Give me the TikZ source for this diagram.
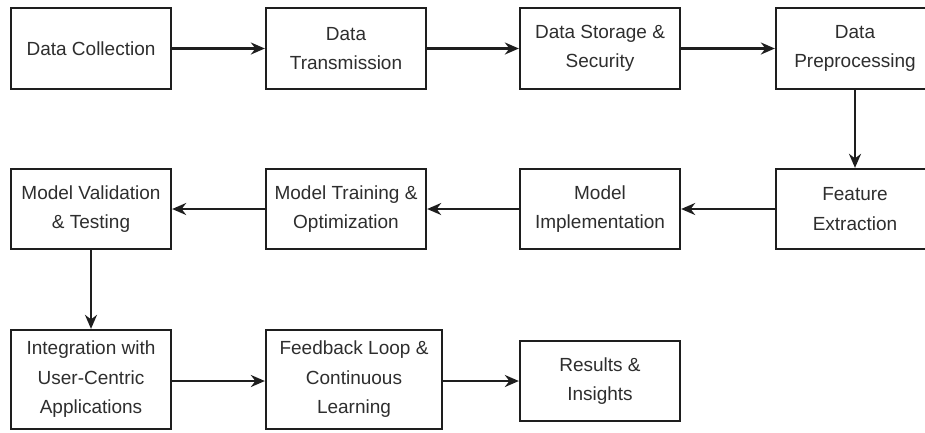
\documentclass[tikz,border=0pt]{standalone}
\usepackage{fontspec}
\setmainfont{Liberation Sans}
\usetikzlibrary{arrows.meta}
\definecolor{edge}{HTML}{1E1E1E}
\definecolor{label}{HTML}{2E2E2E}
\begin{document}
\begin{tikzpicture}[x=1pt,y=-1pt,
  box/.style={draw=edge, line width=2.3pt, fill=white, rectangle,
    minimum width=160pt, minimum height=81pt, inner sep=0pt,
    align=center, text=label, font=\fontsize{19}{29.5}\selectfont},
  flow/.style={draw=edge, line width=2.3pt,
    -{Stealth[length=14pt,width=12pt]}}]
\useasboundingbox (0,0) rectangle (925,432);
\fill[white] (0,0) rectangle (925,432);

% first row
\node[box] (col)  at (91,48.5)  {Data Collection};
\node[box] (tx)   at (346,48.5) {Data\\Transmission};
\node[box] (sto)  at (600,48.5) {Data Storage \&\\Security};
\node[box, minimum width=158pt] (pre) at (855,48.5) {Data\\Preprocessing};

% second row
\node[box, minimum height=80pt] (val)  at (91,209)  {Model Validation\\\& Testing};
\node[box, minimum height=80pt] (tr)   at (346,209) {Model Training \&\\Optimization};
\node[box, minimum height=80pt] (impl) at (600,209) {Model\\Implementation};
\node[box, minimum height=80pt, minimum width=158pt] (feat) at (855,209) {Feature\\Extraction};

% third row
\node[box, minimum height=99pt] (int) at (91,379.5) {Integration with\\User-Centric\\Applications};
\node[box, minimum height=99pt, minimum width=176pt] (fb) at (354,379.5) {Feedback Loop \&\\Continuous\\Learning};
\node[box, minimum height=80pt] (res) at (600,381) {Results \&\\Insights};

% connectors
\draw[flow] (col) -- (tx);
\draw[flow] (tx) -- (sto);
\draw[flow] (sto) -- (pre);
\draw[flow] (pre) -- (feat);
\draw[flow] (feat) -- (impl);
\draw[flow] (impl) -- (tr);
\draw[flow] (tr) -- (val);
\draw[flow] (val) -- (int);
\draw[flow] (int.east |- res.west) -- (fb.west |- res.west);
\draw[flow] (fb.east |- res.west) -- (res.west);
\end{tikzpicture}
\end{document}
